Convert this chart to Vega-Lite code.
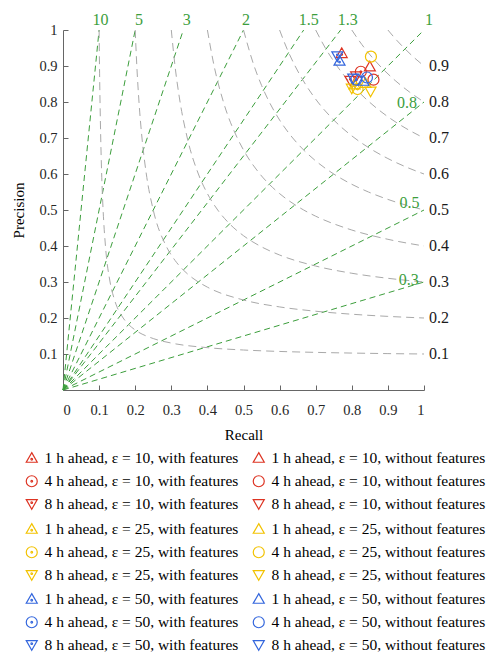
{
  "$schema": "https://vega.github.io/schema/vega-lite/v6.json",
  "width": 361,
  "height": 360,
  "autosize": {"type": "none"},
  "padding": {"left": 63, "top": 30, "right": 62, "bottom": 263},
  "config": {
    "font": "Liberation Serif",
    "view": {"stroke": null},
    "axis": {
      "grid": false,
      "domainColor": "#666666",
      "domainWidth": 1,
      "tickColor": "#666666",
      "tickWidth": 1,
      "tickSize": -5,
      "labelOverlap": false,
      "labelFont": "Liberation Serif",
      "labelFontSize": 14.5,
      "labelColor": "#262626",
      "titleFont": "Liberation Serif",
      "titleFontSize": 15,
      "titleFontWeight": "normal",
      "titleColor": "#000000"
    },
    "legend": {
      "labelFont": "Liberation Serif",
      "labelFontSize": 15.5,
      "labelColor": "#000000",
      "labelLimit": 400,
      "padding": 0
    }
  },
  "datasets": {
    "pts": [
      {"eps": 10, "label": "1 h ahead, ε = 10, with features", "r": 0.772, "p": 0.935},
      {"eps": 10, "label": "1 h ahead, ε = 10, without features", "r": 0.850, "p": 0.898},
      {"eps": 10, "label": "4 h ahead, ε = 10, with features", "r": 0.825, "p": 0.884},
      {"eps": 10, "label": "4 h ahead, ε = 10, without features", "r": 0.860, "p": 0.862},
      {"eps": 10, "label": "8 h ahead, ε = 10, with features", "r": 0.796, "p": 0.860},
      {"eps": 10, "label": "8 h ahead, ε = 10, without features", "r": 0.812, "p": 0.872},
      {"eps": 25, "label": "1 h ahead, ε = 25, with features", "r": 0.808, "p": 0.848},
      {"eps": 25, "label": "1 h ahead, ε = 25, without features", "r": 0.838, "p": 0.852},
      {"eps": 25, "label": "4 h ahead, ε = 25, with features", "r": 0.816, "p": 0.836},
      {"eps": 25, "label": "4 h ahead, ε = 25, without features", "r": 0.853, "p": 0.926},
      {"eps": 25, "label": "8 h ahead, ε = 25, with features", "r": 0.800, "p": 0.838},
      {"eps": 25, "label": "8 h ahead, ε = 25, without features", "r": 0.852, "p": 0.830},
      {"eps": 50, "label": "1 h ahead, ε = 50, with features", "r": 0.766, "p": 0.914},
      {"eps": 50, "label": "1 h ahead, ε = 50, without features", "r": 0.832, "p": 0.858},
      {"eps": 50, "label": "4 h ahead, ε = 50, with features", "r": 0.812, "p": 0.862},
      {"eps": 50, "label": "4 h ahead, ε = 50, without features", "r": 0.842, "p": 0.868},
      {"eps": 50, "label": "8 h ahead, ε = 50, with features", "r": 0.760, "p": 0.928},
      {"eps": 50, "label": "8 h ahead, ε = 50, without features", "r": 0.804, "p": 0.866}
    ],
    "bias": [
      {"b": "10", "r": 0, "p": 0}, {"b": "10", "r": 0.1, "p": 1},
      {"b": "5", "r": 0, "p": 0}, {"b": "5", "r": 0.2, "p": 1},
      {"b": "3", "r": 0, "p": 0}, {"b": "3", "r": 0.3333, "p": 1},
      {"b": "2", "r": 0, "p": 0}, {"b": "2", "r": 0.5, "p": 1},
      {"b": "1.5", "r": 0, "p": 0}, {"b": "1.5", "r": 0.6667, "p": 1},
      {"b": "1.3", "r": 0, "p": 0}, {"b": "1.3", "r": 0.7692, "p": 1},
      {"b": "1", "r": 0, "p": 0}, {"b": "1", "r": 1, "p": 1},
      {"b": "0.8", "r": 0, "p": 0}, {"b": "0.8", "r": 1, "p": 0.8},
      {"b": "0.5", "r": 0, "p": 0}, {"b": "0.5", "r": 1, "p": 0.5},
      {"b": "0.3", "r": 0, "p": 0}, {"b": "0.3", "r": 1, "p": 0.3}
    ],
    "biaslab": [
      {"t": "10", "r": 0.104, "p": 1, "top": 1},
      {"t": "5", "r": 0.2105, "p": 1, "top": 1},
      {"t": "3", "r": 0.3427, "p": 1, "top": 1},
      {"t": "2", "r": 0.507, "p": 1, "top": 1},
      {"t": "1.5", "r": 0.681, "p": 1, "top": 1},
      {"t": "1.3", "r": 0.789, "p": 1, "top": 1},
      {"t": "1", "r": 1.014, "p": 1, "top": 1},
      {"t": "0.8", "r": 0.953, "p": 0.797, "top": 0},
      {"t": "0.5", "r": 0.96, "p": 0.52, "top": 0},
      {"t": "0.3", "r": 0.958, "p": 0.306, "top": 0}
    ],
    "csilab": [
      {"t": "0.1", "r": 1, "p": 0.1}, {"t": "0.2", "r": 1, "p": 0.2},
      {"t": "0.3", "r": 1, "p": 0.3}, {"t": "0.4", "r": 1, "p": 0.4},
      {"t": "0.5", "r": 1, "p": 0.5}, {"t": "0.6", "r": 1, "p": 0.6},
      {"t": "0.7", "r": 1, "p": 0.7}, {"t": "0.8", "r": 1, "p": 0.8},
      {"t": "0.9", "r": 1, "p": 0.9}
    ],
    "csi": [
      {"c": "0.1", "r": 0.1, "p": 1}, {"c": "0.1", "r": 0.1011, "p": 0.9}, {"c": "0.1", "r": 0.1026, "p": 0.8},
      {"c": "0.1", "r": 0.1045, "p": 0.7}, {"c": "0.1", "r": 0.1071, "p": 0.6}, {"c": "0.1", "r": 0.1111, "p": 0.5},
      {"c": "0.1", "r": 0.1176, "p": 0.4}, {"c": "0.1", "r": 0.1304, "p": 0.3}, {"c": "0.1", "r": 0.1429, "p": 0.25},
      {"c": "0.1", "r": 0.1667, "p": 0.2}, {"c": "0.1", "r": 0.1818, "p": 0.1818}, {"c": "0.1", "r": 0.2, "p": 0.1667},
      {"c": "0.1", "r": 0.25, "p": 0.1429}, {"c": "0.1", "r": 0.3, "p": 0.1304}, {"c": "0.1", "r": 0.4, "p": 0.1176},
      {"c": "0.1", "r": 0.5, "p": 0.1111}, {"c": "0.1", "r": 0.6, "p": 0.1071}, {"c": "0.1", "r": 0.7, "p": 0.1045},
      {"c": "0.1", "r": 0.8, "p": 0.1026}, {"c": "0.1", "r": 0.9, "p": 0.1011}, {"c": "0.1", "r": 1, "p": 0.1},
      {"c": "0.2", "r": 0.2, "p": 1}, {"c": "0.2", "r": 0.2045, "p": 0.9}, {"c": "0.2", "r": 0.2105, "p": 0.8},
      {"c": "0.2", "r": 0.2188, "p": 0.7}, {"c": "0.2", "r": 0.2308, "p": 0.6}, {"c": "0.2", "r": 0.25, "p": 0.5},
      {"c": "0.2", "r": 0.2857, "p": 0.4}, {"c": "0.2", "r": 0.3103, "p": 0.36}, {"c": "0.2", "r": 0.3333, "p": 0.3333},
      {"c": "0.2", "r": 0.36, "p": 0.3103}, {"c": "0.2", "r": 0.4, "p": 0.2857}, {"c": "0.2", "r": 0.5, "p": 0.25},
      {"c": "0.2", "r": 0.6, "p": 0.2308}, {"c": "0.2", "r": 0.7, "p": 0.2188}, {"c": "0.2", "r": 0.8, "p": 0.2105},
      {"c": "0.2", "r": 0.9, "p": 0.2045}, {"c": "0.2", "r": 1, "p": 0.2},
      {"c": "0.3", "r": 0.3, "p": 1}, {"c": "0.3", "r": 0.3103, "p": 0.9}, {"c": "0.3", "r": 0.3243, "p": 0.8},
      {"c": "0.3", "r": 0.3443, "p": 0.7}, {"c": "0.3", "r": 0.375, "p": 0.6}, {"c": "0.3", "r": 0.4, "p": 0.5455},
      {"c": "0.3", "r": 0.4286, "p": 0.5}, {"c": "0.3", "r": 0.4615, "p": 0.4615}, {"c": "0.3", "r": 0.5, "p": 0.4286},
      {"c": "0.3", "r": 0.5455, "p": 0.4}, {"c": "0.3", "r": 0.6, "p": 0.375}, {"c": "0.3", "r": 0.7, "p": 0.3443},
      {"c": "0.3", "r": 0.8, "p": 0.3243}, {"c": "0.3", "r": 0.9, "p": 0.3103}, {"c": "0.3", "r": 1, "p": 0.3},
      {"c": "0.4", "r": 0.4, "p": 1}, {"c": "0.4", "r": 0.4186, "p": 0.9}, {"c": "0.4", "r": 0.4444, "p": 0.8},
      {"c": "0.4", "r": 0.4828, "p": 0.7}, {"c": "0.4", "r": 0.5, "p": 0.6667}, {"c": "0.4", "r": 0.5455, "p": 0.6},
      {"c": "0.4", "r": 0.5714, "p": 0.5714}, {"c": "0.4", "r": 0.6, "p": 0.5455}, {"c": "0.4", "r": 0.6667, "p": 0.5},
      {"c": "0.4", "r": 0.7, "p": 0.4828}, {"c": "0.4", "r": 0.8, "p": 0.4444}, {"c": "0.4", "r": 0.9, "p": 0.4186},
      {"c": "0.4", "r": 1, "p": 0.4},
      {"c": "0.5", "r": 0.5, "p": 1}, {"c": "0.5", "r": 0.5294, "p": 0.9}, {"c": "0.5", "r": 0.55, "p": 0.8462},
      {"c": "0.5", "r": 0.5714, "p": 0.8}, {"c": "0.5", "r": 0.6, "p": 0.75}, {"c": "0.5", "r": 0.6364, "p": 0.7},
      {"c": "0.5", "r": 0.6667, "p": 0.6667}, {"c": "0.5", "r": 0.7, "p": 0.6364}, {"c": "0.5", "r": 0.75, "p": 0.6},
      {"c": "0.5", "r": 0.8, "p": 0.5714}, {"c": "0.5", "r": 0.8462, "p": 0.55}, {"c": "0.5", "r": 0.9, "p": 0.5294},
      {"c": "0.5", "r": 1, "p": 0.5},
      {"c": "0.6", "r": 0.6, "p": 1}, {"c": "0.6", "r": 0.6196, "p": 0.95}, {"c": "0.6", "r": 0.6429, "p": 0.9},
      {"c": "0.6", "r": 0.6711, "p": 0.85}, {"c": "0.6", "r": 0.7059, "p": 0.8}, {"c": "0.6", "r": 0.75, "p": 0.75},
      {"c": "0.6", "r": 0.8, "p": 0.7059}, {"c": "0.6", "r": 0.85, "p": 0.6711}, {"c": "0.6", "r": 0.9, "p": 0.6429},
      {"c": "0.6", "r": 0.95, "p": 0.6196}, {"c": "0.6", "r": 1, "p": 0.6},
      {"c": "0.7", "r": 0.7, "p": 1}, {"c": "0.7", "r": 0.7267, "p": 0.95}, {"c": "0.7", "r": 0.759, "p": 0.9},
      {"c": "0.7", "r": 0.7987, "p": 0.85}, {"c": "0.7", "r": 0.8235, "p": 0.8235}, {"c": "0.7", "r": 0.85, "p": 0.7987},
      {"c": "0.7", "r": 0.9, "p": 0.759}, {"c": "0.7", "r": 0.95, "p": 0.7267}, {"c": "0.7", "r": 1, "p": 0.7},
      {"c": "0.8", "r": 0.8, "p": 1}, {"c": "0.8", "r": 0.8276, "p": 0.96}, {"c": "0.8", "r": 0.8598, "p": 0.92},
      {"c": "0.8", "r": 0.8889, "p": 0.8889}, {"c": "0.8", "r": 0.92, "p": 0.8598}, {"c": "0.8", "r": 0.96, "p": 0.8276},
      {"c": "0.8", "r": 1, "p": 0.8},
      {"c": "0.9", "r": 0.9, "p": 1}, {"c": "0.9", "r": 0.9258, "p": 0.97}, {"c": "0.9", "r": 0.9474, "p": 0.9474},
      {"c": "0.9", "r": 0.97, "p": 0.9258}, {"c": "0.9", "r": 1, "p": 0.9}
    ]
  },
  "encoding": {
    "x": {"field": "r", "type": "quantitative", "scale": {"domain": [0, 1], "nice": false},
          "axis": {"title": "Recall", "values": [0, 0.1, 0.2, 0.3, 0.4, 0.5, 0.6, 0.7, 0.8, 0.9, 1], "format": "~g", "labelPadding": 18, "titlePadding": 11, "labelOverlap": false, "labelSeparation": 0}},
    "y": {"field": "p", "type": "quantitative", "scale": {"domain": [0, 1], "nice": false},
          "axis": {"title": "Precision", "values": [0.1, 0.2, 0.3, 0.4, 0.5, 0.6, 0.7, 0.8, 0.9, 1], "format": "~g", "labelPadding": 11, "titlePadding": 12, "labelOverlap": false, "labelSeparation": 0}}
  },
  "layer": [
    {
      "data": {"name": "bias"},
      "mark": {"type": "line", "color": "#3c9e3c", "strokeWidth": 1, "strokeDash": [6, 4]},
      "encoding": {"detail": {"field": "b"}}
    },
    {
      "data": {"name": "csi"},
      "mark": {"type": "line", "color": "#a9a9a9", "strokeWidth": 1, "strokeDash": [8, 5], "interpolate": "monotone"},
      "encoding": {"detail": {"field": "c"}}
    },
    {
      "data": {"name": "biaslab"},
      "transform": [{"filter": "datum.top == 1"}],
      "mark": {"type": "text", "color": "#3c9e3c", "fontSize": 16, "align": "center", "baseline": "middle", "dy": -10},
      "encoding": {"text": {"field": "t"}}
    },
    {
      "data": {"name": "biaslab"},
      "transform": [{"filter": "datum.top == 0"}],
      "mark": {"type": "text", "color": "#3c9e3c", "fontSize": 16, "align": "center", "baseline": "middle"},
      "encoding": {"text": {"field": "t"}}
    },
    {
      "data": {"name": "csilab"},
      "mark": {"type": "text", "color": "#1a1a1a", "fontSize": 16, "align": "left", "baseline": "middle", "dx": 5},
      "encoding": {"text": {"field": "t"}}
    },
    {
      "data": {"name": "pts"},
      "transform": [{"filter": "datum.eps == 10"}],
      "mark": {"type": "point", "filled": false, "size": 121, "strokeWidth": 1.2, "opacity": 1},
      "encoding": {
        "color": {"field": "label", "type": "nominal",
          "scale": {"domain": ["1 h ahead, ε = 10, with features", "4 h ahead, ε = 10, with features", "8 h ahead, ε = 10, with features", "1 h ahead, ε = 10, without features", "4 h ahead, ε = 10, without features", "8 h ahead, ε = 10, without features"],
                    "range": ["#dd3322", "#dd3322", "#dd3322", "#dd3322", "#dd3322", "#dd3322"]},
          "legend": {"title": null, "orient": "none", "legendX": -39, "legendY": 420, "columns": 2, "columnPadding": 11, "rowPadding": 5.5, "symbolSize": 121, "symbolStrokeWidth": 1.2, "labelOffset": 5}},
        "shape": {"field": "label", "type": "nominal",
          "scale": {"domain": ["1 h ahead, ε = 10, with features", "4 h ahead, ε = 10, with features", "8 h ahead, ε = 10, with features", "1 h ahead, ε = 10, without features", "4 h ahead, ε = 10, without features", "8 h ahead, ε = 10, without features"],
                    "range": ["M0,-1L1,0.75L-1,0.75Z M0.15,0.2A0.15,0.15 0 1,1 -0.15,0.2A0.15,0.15 0 1,1 0.15,0.2Z", "M1,0A1,1 0 1,1 -1,0A1,1 0 1,1 1,0Z M0.15,0A0.15,0.15 0 1,1 -0.15,0A0.15,0.15 0 1,1 0.15,0Z", "M0,1L1,-0.75L-1,-0.75Z M0.15,-0.2A0.15,0.15 0 1,1 -0.15,-0.2A0.15,0.15 0 1,1 0.15,-0.2Z", "M0,-1L1,0.75L-1,0.75Z", "M1,0A1,1 0 1,1 -1,0A1,1 0 1,1 1,0Z", "M0,1L1,-0.75L-1,-0.75Z"]},
          "legend": {"title": null, "orient": "none", "legendX": -39, "legendY": 420, "columns": 2, "columnPadding": 11, "rowPadding": 5.5, "symbolSize": 121, "symbolStrokeWidth": 1.2, "labelOffset": 5}}
      }
    },
    {
      "data": {"name": "pts"},
      "transform": [{"filter": "datum.eps == 25"}],
      "mark": {"type": "point", "filled": false, "size": 121, "strokeWidth": 1.2, "opacity": 1},
      "encoding": {
        "color": {"field": "label", "type": "nominal",
          "scale": {"domain": ["1 h ahead, ε = 25, with features", "4 h ahead, ε = 25, with features", "8 h ahead, ε = 25, with features", "1 h ahead, ε = 25, without features", "4 h ahead, ε = 25, without features", "8 h ahead, ε = 25, without features"],
                    "range": ["#f2c200", "#f2c200", "#f2c200", "#f2c200", "#f2c200", "#f2c200"]},
          "legend": {"title": null, "orient": "none", "legendX": -39, "legendY": 491, "columns": 2, "columnPadding": 11, "rowPadding": 5.5, "symbolSize": 121, "symbolStrokeWidth": 1.2, "labelOffset": 5}},
        "shape": {"field": "label", "type": "nominal",
          "scale": {"domain": ["1 h ahead, ε = 25, with features", "4 h ahead, ε = 25, with features", "8 h ahead, ε = 25, with features", "1 h ahead, ε = 25, without features", "4 h ahead, ε = 25, without features", "8 h ahead, ε = 25, without features"],
                    "range": ["M0,-1L1,0.75L-1,0.75Z M0.15,0.2A0.15,0.15 0 1,1 -0.15,0.2A0.15,0.15 0 1,1 0.15,0.2Z", "M1,0A1,1 0 1,1 -1,0A1,1 0 1,1 1,0Z M0.15,0A0.15,0.15 0 1,1 -0.15,0A0.15,0.15 0 1,1 0.15,0Z", "M0,1L1,-0.75L-1,-0.75Z M0.15,-0.2A0.15,0.15 0 1,1 -0.15,-0.2A0.15,0.15 0 1,1 0.15,-0.2Z", "M0,-1L1,0.75L-1,0.75Z", "M1,0A1,1 0 1,1 -1,0A1,1 0 1,1 1,0Z", "M0,1L1,-0.75L-1,-0.75Z"]},
          "legend": {"title": null, "orient": "none", "legendX": -39, "legendY": 491, "columns": 2, "columnPadding": 11, "rowPadding": 5.5, "symbolSize": 121, "symbolStrokeWidth": 1.2, "labelOffset": 5}}
      }
    },
    {
      "data": {"name": "pts"},
      "transform": [{"filter": "datum.eps == 50"}],
      "mark": {"type": "point", "filled": false, "size": 121, "strokeWidth": 1.2, "opacity": 1},
      "encoding": {
        "color": {"field": "label", "type": "nominal",
          "scale": {"domain": ["1 h ahead, ε = 50, with features", "4 h ahead, ε = 50, with features", "8 h ahead, ε = 50, with features", "1 h ahead, ε = 50, without features", "4 h ahead, ε = 50, without features", "8 h ahead, ε = 50, without features"],
                    "range": ["#3366dd", "#3366dd", "#3366dd", "#3366dd", "#3366dd", "#3366dd"]},
          "legend": {"title": null, "orient": "none", "legendX": -39, "legendY": 561, "columns": 2, "columnPadding": 11, "rowPadding": 5.5, "symbolSize": 121, "symbolStrokeWidth": 1.2, "labelOffset": 5}},
        "shape": {"field": "label", "type": "nominal",
          "scale": {"domain": ["1 h ahead, ε = 50, with features", "4 h ahead, ε = 50, with features", "8 h ahead, ε = 50, with features", "1 h ahead, ε = 50, without features", "4 h ahead, ε = 50, without features", "8 h ahead, ε = 50, without features"],
                    "range": ["M0,-1L1,0.75L-1,0.75Z M0.15,0.2A0.15,0.15 0 1,1 -0.15,0.2A0.15,0.15 0 1,1 0.15,0.2Z", "M1,0A1,1 0 1,1 -1,0A1,1 0 1,1 1,0Z M0.15,0A0.15,0.15 0 1,1 -0.15,0A0.15,0.15 0 1,1 0.15,0Z", "M0,1L1,-0.75L-1,-0.75Z M0.15,-0.2A0.15,0.15 0 1,1 -0.15,-0.2A0.15,0.15 0 1,1 0.15,-0.2Z", "M0,-1L1,0.75L-1,0.75Z", "M1,0A1,1 0 1,1 -1,0A1,1 0 1,1 1,0Z", "M0,1L1,-0.75L-1,-0.75Z"]},
          "legend": {"title": null, "orient": "none", "legendX": -39, "legendY": 561, "columns": 2, "columnPadding": 11, "rowPadding": 5.5, "symbolSize": 121, "symbolStrokeWidth": 1.2, "labelOffset": 5}}
      }
    }
  ],
  "resolve": {"scale": {"color": "independent", "shape": "independent"}}
}
